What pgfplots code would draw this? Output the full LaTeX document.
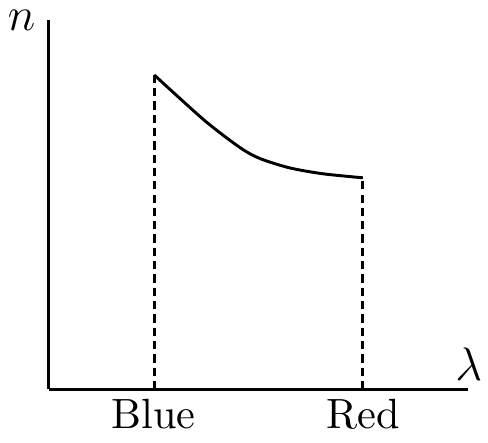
\documentclass[border=0pt]{standalone}
\usepackage{pgfplots}
\pgfplotsset{compat=1.18}

\begin{document}
\begin{tikzpicture}
\begin{axis}[
  scale only axis, width=107pt, height=94.2pt,
  xmin=0, xmax=10, ymin=0, ymax=10,
  axis lines=left, axis line style={-, line width=0.75pt},
  xtick={2.5,7.5}, xticklabels={Blue,Red}, ytick=\empty,
  major tick length=0pt,
  xticklabel style={yshift=0.9pt, font=\fontsize{10.8}{13}\selectfont},
  clip=false,
]
\addplot[line width=0.72pt, dash pattern=on 2.1pt off 1.3pt] coordinates {(2.52,0) (2.52,8.52)};
\addplot[line width=0.72pt, dash pattern=on 2.1pt off 1.3pt] coordinates {(7.5,0) (7.5,5.73)};
\addplot[line width=0.75pt, smooth] coordinates
  {(2.52,8.52) (3.0,8.02) (3.79,7.22) (4.58,6.54) (5.05,6.25) (5.75,6.00) (6.54,5.84) (7.5,5.73)};
\node[anchor=east, inner xsep=2pt, inner ysep=2.6pt, xshift=-1.2pt, font=\large] at (rel axis cs:0,1) {$n$};
\node[anchor=south, inner sep=1.5pt, xshift=0.3pt, yshift=0.5pt, font=\large] at (rel axis cs:1,0) {$\lambda$};
\end{axis}
\end{tikzpicture}
\end{document}
